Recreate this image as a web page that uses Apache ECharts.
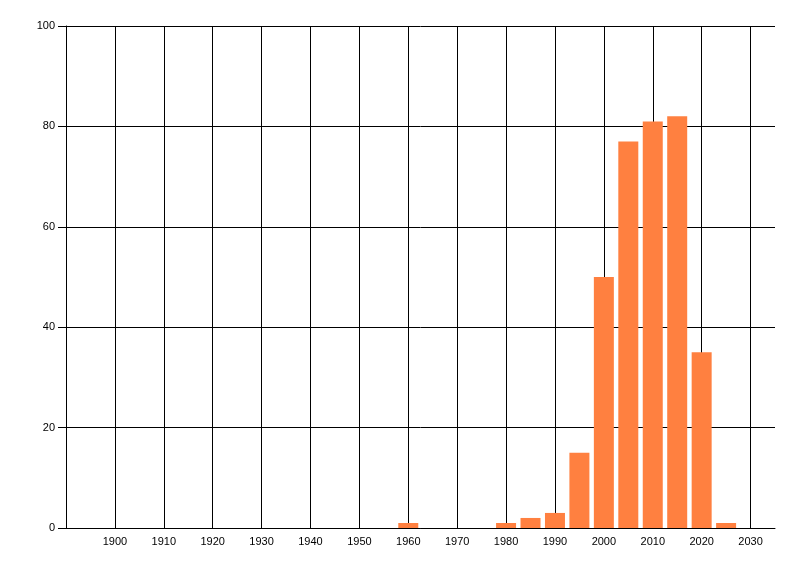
<!DOCTYPE html>
<html>
<head>
<meta charset="utf-8">
<script src="https://cdn.jsdelivr.net/npm/echarts@6/dist/echarts.min.js"></script>
<style>
html,body{margin:0;padding:0;background:#fff;}
#c{width:800px;height:576px;}
</style>
</head>
<body>
<div id="c"></div>
<script>
var years = [1960, 1980, 1985, 1990, 1995, 2000, 2005, 2010, 2015, 2020, 2025];
var counts = [1, 1, 2, 3, 15, 50, 77, 81, 82, 35, 1];
var yTicks = [0, 20, 40, 60, 80, 100];

var chart = echarts.init(document.getElementById('c'), null, {renderer: 'canvas'});
var font = 'Liberation Sans, Arial, sans-serif';
chart.setOption({
  animation: false,
  backgroundColor: '#ffffff',
  grid: {left: 66, right: 25, top: 26, bottom: 48, containLabel: false},
  xAxis: {
    type: 'value',
    min: 1890,
    max: 2035,
    interval: 10,
    axisLine: {show: true, onZero: false, lineStyle: {color: '#000', width: 1}},
    axisTick: {show: false},
    axisLabel: {
      color: '#000', fontSize: 11, fontFamily: font, margin: 8,
      showMinLabel: false, showMaxLabel: false,
      formatter: function (v) { return (v >= 1900 && v <= 2030) ? String(v) : ''; }
    },
    splitLine: {show: true, showMaxLine: false, lineStyle: {color: '#000', width: 1}}
  },
  yAxis: {
    type: 'value',
    min: yTicks[0],
    max: yTicks[yTicks.length - 1],
    interval: 20,
    axisLine: {show: true, lineStyle: {color: '#000', width: 1}},
    axisTick: {show: true, length: 8, lineStyle: {color: '#000', width: 1}},
    axisLabel: {color: '#000', fontSize: 11, fontFamily: font, margin: 11},
    splitLine: {show: true, lineStyle: {color: '#000', width: 1}}
  },
  series: [{
    type: 'bar',
    barWidth: 20,
    itemStyle: {color: '#FF8040'},
    data: years.map(function (y, i) { return [y, counts[i]]; })
  }]
});
</script>
</body>
</html>
